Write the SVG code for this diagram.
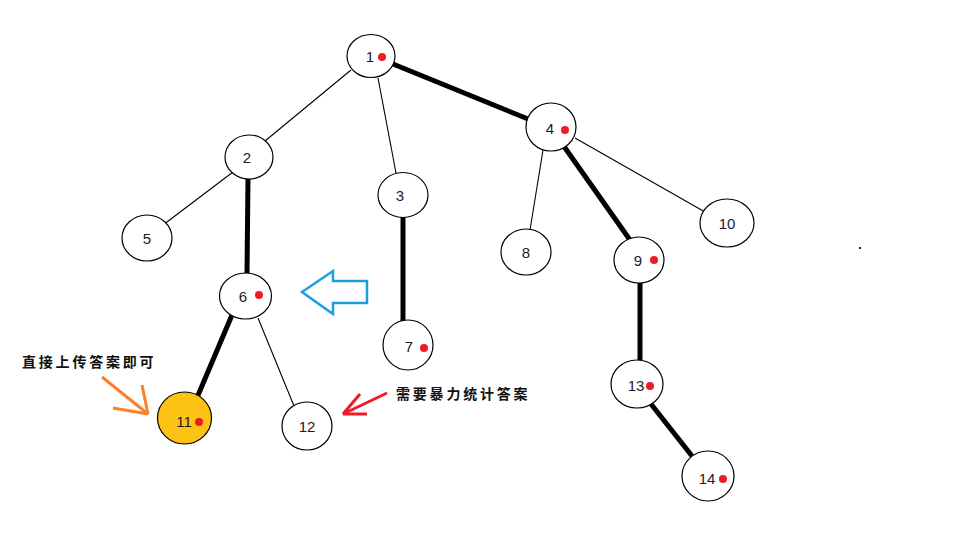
<svg xmlns="http://www.w3.org/2000/svg" width="960" height="540" viewBox="0 0 960 540">
<style>
.n{fill:#fff;stroke:#000;stroke-width:1.2}
.y{fill:#fcc314;stroke:#000;stroke-width:1.2}
.t{font-family:"Liberation Sans","Noto Sans",sans-serif;font-size:15px;fill:#1a1a2a;text-anchor:middle}
.d{fill:#ed1c24}
.thin{stroke:#000;stroke-width:1.1;fill:none}
.thick{stroke:#000;stroke-width:5;fill:none}
.cj{font-family:"Noto Sans CJK SC",sans-serif;font-size:14px;font-weight:bold;fill:#111;letter-spacing:2.8px}
</style>
<rect width="960" height="540" fill="#fff"/>
<g id="connectors">
<line class="thin" x1="351" y1="70" x2="265" y2="141"/>
<line class="thin" x1="378" y1="78" x2="396" y2="173"/>
<line class="thick" x1="393" y1="64" x2="528" y2="119"/>
<line class="thin" x1="233" y1="172" x2="163" y2="225"/>
<line class="thick" x1="248" y1="178" x2="247" y2="273"/>
<line class="thick" x1="403" y1="217" x2="403" y2="321"/>
<line class="thin" x1="543" y1="150" x2="530" y2="230"/>
<line class="thick" x1="563" y1="145" x2="630" y2="240"/>
<line class="thin" x1="575" y1="138" x2="705" y2="212"/>
<line class="thick" x1="232" y1="315" x2="196" y2="400"/>
<line class="thin" x1="258" y1="318" x2="294" y2="406"/>
<line class="thick" x1="640" y1="283" x2="640" y2="360"/>
<line class="thick" x1="651" y1="404" x2="692" y2="456"/>
</g>
<g id="n1"><ellipse class="n" cx="371" cy="56" rx="24" ry="21.5"/><text class="t" x="370" y="62">1</text><circle class="d" cx="382" cy="57" r="4"/></g>
<g id="n2"><ellipse class="n" cx="249" cy="157" rx="24" ry="22"/><text class="t" x="247" y="163">2</text></g>
<g id="n3"><ellipse class="n" cx="403" cy="195" rx="25" ry="22.5"/><text class="t" x="400" y="201">3</text></g>
<g id="n4"><ellipse class="n" cx="551" cy="127" rx="25" ry="24"/><text class="t" x="550" y="134">4</text><circle class="d" cx="565" cy="130" r="4"/></g>
<g id="n5"><ellipse class="n" cx="147" cy="238" rx="25" ry="23"/><text class="t" x="147" y="244">5</text></g>
<g id="n6"><ellipse class="n" cx="245.5" cy="296" rx="26" ry="23"/><text class="t" x="243" y="302">6</text><circle class="d" cx="259" cy="295" r="4"/></g>
<g id="n7"><ellipse class="n" cx="408" cy="345" rx="25" ry="25"/><text class="t" x="409" y="352">7</text><circle class="d" cx="424" cy="348" r="4"/></g>
<g id="n8"><ellipse class="n" cx="526" cy="252" rx="25" ry="23"/><text class="t" x="526" y="258">8</text></g>
<g id="n9"><ellipse class="n" cx="639" cy="260" rx="25" ry="23"/><text class="t" x="638" y="266">9</text><circle class="d" cx="654" cy="260" r="4"/></g>
<g id="n10"><ellipse class="n" cx="727" cy="223" rx="27" ry="24"/><text class="t" x="727" y="229">10</text></g>
<g id="n11"><ellipse class="y" cx="184.5" cy="418" rx="27" ry="26"/><text class="t" x="184" y="427">11</text><circle class="d" cx="199" cy="422" r="4"/></g>
<g id="n12"><ellipse class="n" cx="307" cy="426" rx="25" ry="24"/><text class="t" x="307" y="432">12</text></g>
<g id="n13"><ellipse class="n" cx="637" cy="384" rx="26" ry="24"/><text class="t" x="636" y="391">13</text><circle class="d" cx="650" cy="386" r="4"/></g>
<g id="n14"><ellipse class="n" cx="708" cy="476" rx="26" ry="25"/><text class="t" x="707" y="484">14</text><circle class="d" cx="723" cy="479" r="4"/></g>
<g id="blue-arrow"><polygon points="302,292 333,271 333,281 367,281 367,303 333,303 333,314" fill="none" stroke="#1a9fe0" stroke-width="2.5" stroke-linejoin="miter"/></g>
<g id="orange-arrow" stroke="#ff7f27" stroke-width="3" fill="none" stroke-linecap="butt">
<line x1="102" y1="377" x2="148" y2="414"/>
<line x1="142" y1="385" x2="148" y2="414"/>
<line x1="113" y1="408" x2="148" y2="414"/>
</g>
<g id="red-arrow" stroke="#ed1c24" stroke-width="3" fill="none">
<line x1="387" y1="393" x2="343" y2="414"/>
<line x1="360" y1="394" x2="343" y2="414"/>
<line x1="367" y1="414" x2="343" y2="414"/>
</g>
<text class="cj" x="22" y="367">直接上传答案即可</text>
<text class="cj" x="396" y="399">需要暴力统计答案</text>
<rect x="859" y="247" width="2" height="2" fill="#222"/>
</svg>
